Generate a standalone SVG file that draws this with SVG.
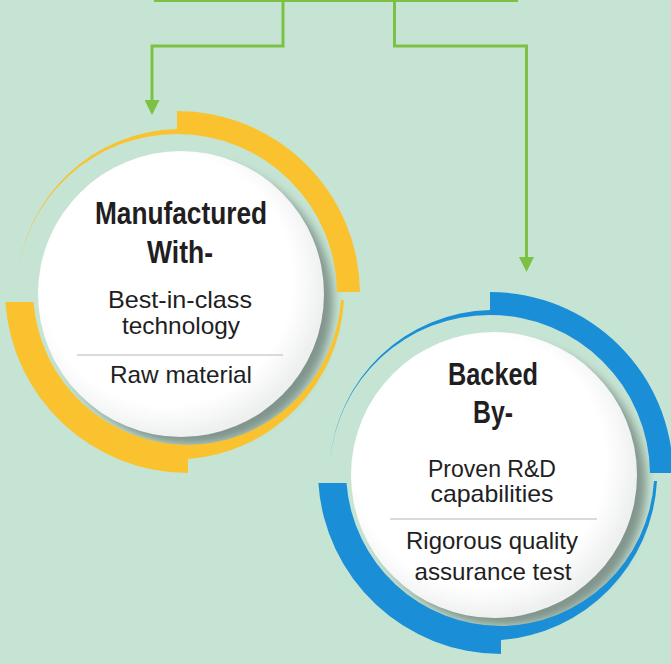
<svg xmlns="http://www.w3.org/2000/svg" width="671" height="664" viewBox="0 0 671 664">
<defs>
<style>
.bg{fill:#c6e4d3}
.conn{fill:none;stroke:#7cc144;stroke-width:3}
.yellow{fill:#f9c22e}
.blue{fill:#1a8fd7}
.disk{fill:url(#diskGrad)}
.shadow{fill:#6f817a;opacity:0.8;filter:url(#blur)}
.h{font-family:"Liberation Sans",Arial,sans-serif;font-weight:bold;font-size:32px;fill:#221e1f;text-anchor:middle}
.t{font-family:"Liberation Sans",Arial,sans-serif;font-size:24px;fill:#221e1f;text-anchor:middle}
.div{stroke:#b5b5b5;stroke-width:1}
</style>
<radialGradient id="diskGrad" cx="0.45" cy="0.45" r="0.55">
<stop offset="0.8" stop-color="#ffffff"/>
<stop offset="1" stop-color="#eef0ef"/>
</radialGradient>
<filter id="blur" x="-20%" y="-20%" width="140%" height="140%"><feGaussianBlur stdDeviation="5"/></filter>
<marker id="arrow" viewBox="0 0 15 15" refX="4" refY="7.5" markerWidth="15" markerHeight="15" markerUnits="userSpaceOnUse" orient="auto"><path d="M0 0 L15 7.5 L0 15 Z" fill="#7cc144"/></marker>
</defs>
<rect class="bg" x="0" y="0" width="671" height="664"/>
<g id="connectors">
<line class="conn" x1="154" y1="0.5" x2="518" y2="0.5"/>
<polyline class="conn" points="283,0 283,46 152,46 152,104" marker-end="url(#arrow)"/>
<polyline class="conn" points="394.5,0 394.5,46 526.5,46 526.5,261" marker-end="url(#arrow)"/>
</g>
<g id="node-manufactured">
<circle class="shadow" cx="191" cy="303" r="142"/>
<g class="yellow">
<path d="M177 111 A183 183 0 0 1 360 292 L337 292 A160 160 0 0 0 177 134 Z"/>
<path d="M177 129 A165 165 0 0 0 17 281 A160 160 0 0 1 177 134 Z"/>
<path d="M5.4 302 A183 183 0 0 0 188 473 L188 445 A155 155 0 0 1 33.5 302 Z"/>
<path d="M188 459 A169 169 0 0 0 344 300 L341 300 A155 155 0 0 1 188 445 Z"/>
</g>
<circle class="disk" cx="181" cy="294" r="143"/>
<text class="h" x="181" y="224" textLength="172" lengthAdjust="spacingAndGlyphs">Manufactured</text>
<text class="h" x="180" y="263" textLength="66" lengthAdjust="spacingAndGlyphs">With-</text>
<text class="t" x="180" y="308" textLength="144" lengthAdjust="spacingAndGlyphs">Best-in-class</text>
<text class="t" x="181" y="334" textLength="118" lengthAdjust="spacingAndGlyphs">technology</text>
<line class="div" x1="77" y1="355" x2="283" y2="355"/>
<text class="t" x="181" y="383" textLength="142" lengthAdjust="spacingAndGlyphs">Raw material</text>
</g>
<g id="node-backed">
<circle class="shadow" cx="504" cy="484" r="142"/>
<g class="blue" transform="translate(313,181)">
<path d="M177 111 A183 183 0 0 1 360 292 L337 292 A160 160 0 0 0 177 134 Z"/>
<path d="M177 129 A165 165 0 0 0 17 281 A160 160 0 0 1 177 134 Z"/>
<path d="M5.4 302 A183 183 0 0 0 188 473 L188 445 A155 155 0 0 1 33.5 302 Z"/>
<path d="M188 459 A169 169 0 0 0 344 300 L341 300 A155 155 0 0 1 188 445 Z"/>
</g>
<circle class="disk" cx="494" cy="475" r="143"/>
<text class="h" x="493" y="385" textLength="90" lengthAdjust="spacingAndGlyphs">Backed</text>
<text class="h" x="493" y="423" textLength="40" lengthAdjust="spacingAndGlyphs">By-</text>
<text class="t" x="492" y="477" textLength="128" lengthAdjust="spacingAndGlyphs">Proven R&amp;D</text>
<text class="t" x="492" y="502" textLength="123" lengthAdjust="spacingAndGlyphs">capabilities</text>
<line class="div" x1="390" y1="519" x2="597" y2="519"/>
<text class="t" x="492" y="549" textLength="172" lengthAdjust="spacingAndGlyphs">Rigorous quality</text>
<text class="t" x="493" y="580" textLength="157" lengthAdjust="spacingAndGlyphs">assurance test</text>
</g>
</svg>
